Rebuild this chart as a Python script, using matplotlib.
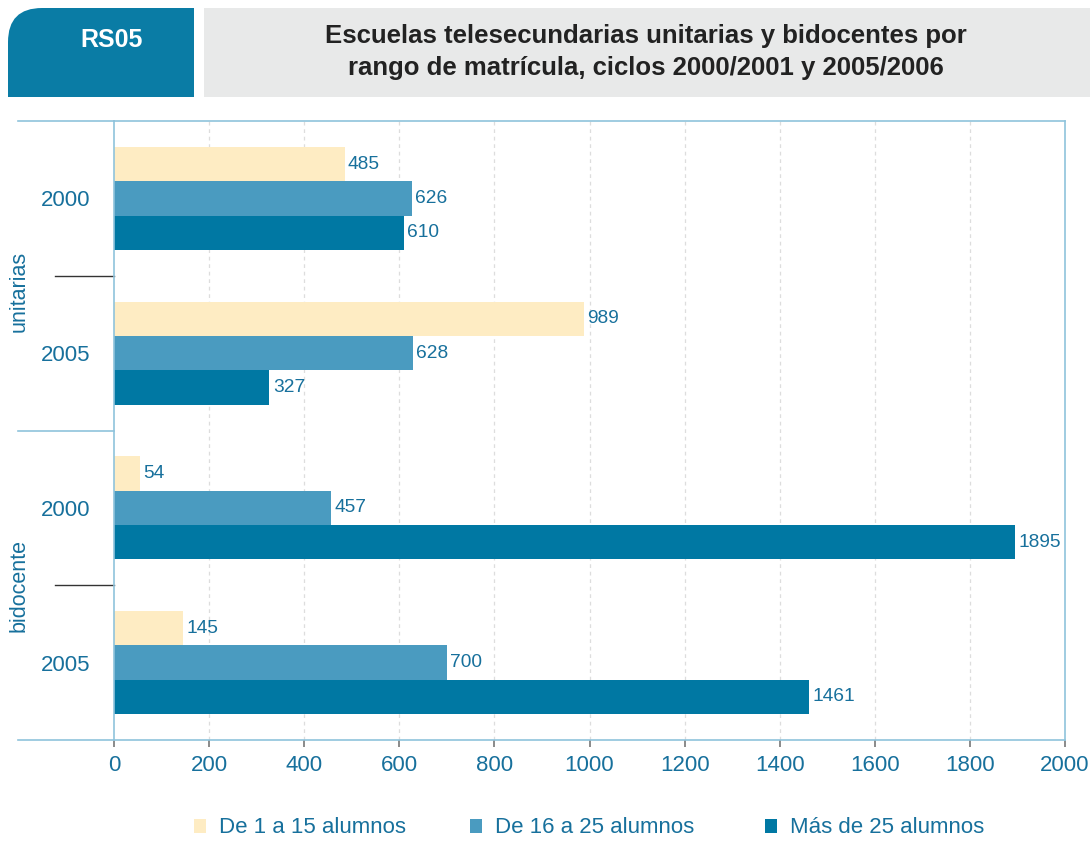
import numpy as np
import matplotlib.pyplot as plt
from matplotlib.patches import Rectangle, FancyBboxPatch
import matplotlib.transforms as mtransforms

plt.rcParams['font.family'] = ['Liberation Sans', 'DejaVu Sans']

# data
groups = ['unitarias', 'bidocente']
years = ['2000', '2005', '2000', '2005']
series = ['De 1 a 15 alumnos', 'De 16 a 25 alumnos', 'Más de 25 alumnos']
de_1_15 = [485, 989, 54, 145]
de_16_25 = [626, 628, 457, 700]
mas_25 = [610, 327, 1895, 1461]
xticks = [0, 200, 400, 600, 800, 1000, 1200, 1400, 1600, 1800, 2000]

colors = ['#feecc3', '#4a9bc0', '#0078a3']
txt_col = '#17709c'
line_col = '#8fc3dc'

W, H = 1090, 855
fig = plt.figure(figsize=(W / 100, H / 100), dpi=100)

# header / legend drawn on a pixel-space overlay
bg = fig.add_axes([0, 0, 1, 1])
bg.set_xlim(0, W)
bg.set_ylim(H, 0)
bg.axis('off')
bg.add_patch(FancyBboxPatch((8, 8), 186, 89, boxstyle='round,pad=0,rounding_size=34',
                            fc='#0a7ca5', ec='none'))
bg.add_patch(Rectangle((8, 50), 40, 47, fc='#0a7ca5', ec='none'))
bg.add_patch(Rectangle((150, 8), 44, 89, fc='#0a7ca5', ec='none'))
bg.add_patch(Rectangle((204, 8), 886, 89, fc='#e8e9e9', ec='none'))
bg.text(112, 40, 'RS05', color='white', fontsize=18, fontweight='bold',
        ha='center', va='center')
bg.text(646, 36, 'Escuelas telesecundarias unitarias y bidocentes por',
        color='#222222', fontsize=18.5, fontweight='bold', ha='center', va='center')
bg.text(646, 68, 'rango de matrícula, ciclos 2000/2001 y 2005/2006',
        color='#222222', fontsize=18.5, fontweight='bold', ha='center', va='center')

# legend
leg_x = [194, 470, 765]
for lx, c, s in zip(leg_x, colors, series):
    bg.add_patch(Rectangle((lx, 819), 12, 14, fc=c, ec='none'))
    bg.text(lx + 25, 827, s, color=txt_col, fontsize=16, ha='left', va='center')

# main axes
x0, x1, y0, y1 = 114, 1065, 121, 740
ax = fig.add_axes([x0 / W, 1 - y1 / H, (x1 - x0) / W, (y1 - y0) / H])
ax.set_xlim(0, 2000)
ax.set_ylim(4, 0)

h = 0.222
pos = np.arange(4) + 0.5
for k, vals in enumerate([de_1_15, de_16_25, mas_25]):
    yy = pos + (k - 1) * h
    ax.barh(yy, vals, height=h, color=colors[k], edgecolor='none', zorder=2)
    for y, v in zip(yy, vals):
        ax.text(v + 7, y, str(v), color=txt_col, fontsize=13.8, ha='left', va='center', zorder=3)

for xv in xticks[1:-1]:
    ax.axvline(xv, color='#dddddd', lw=0.9, ls=(0, (3, 3)), zorder=1)

ax.set_xticks(xticks)
ax.set_xticklabels([str(v) for v in xticks], color=txt_col, fontsize=16)
ax.tick_params(axis='x', length=5, color='#777777', width=1.2, pad=6)
ax.set_yticks(pos)
ax.set_yticklabels(years, color=txt_col, fontsize=16)
ax.tick_params(axis='y', length=0, pad=17)

for sp in ax.spines.values():
    sp.set_color(line_col)
    sp.set_linewidth(1.2)

trans = mtransforms.blended_transform_factory(ax.transAxes, ax.transData)
xl = (18 - x0) / (x1 - x0)
xs = (55 - x0) / (x1 - x0)
for yv in [0, 2, 4]:
    ax.plot([xl, 0], [yv, yv], color=line_col, lw=1.2, transform=trans, clip_on=False)
for yv in [1, 3]:
    ax.plot([xs, 0], [yv, yv], color='#333333', lw=1.0, transform=trans, clip_on=False)

for g, yc in zip(groups, [1.1, 3.0]):
    ax.text((19 - x0) / (x1 - x0), yc, g, rotation=90, color=txt_col, fontsize=15.5,
            ha='center', va='center', transform=trans)

fig.savefig('out.png', dpi=100)
